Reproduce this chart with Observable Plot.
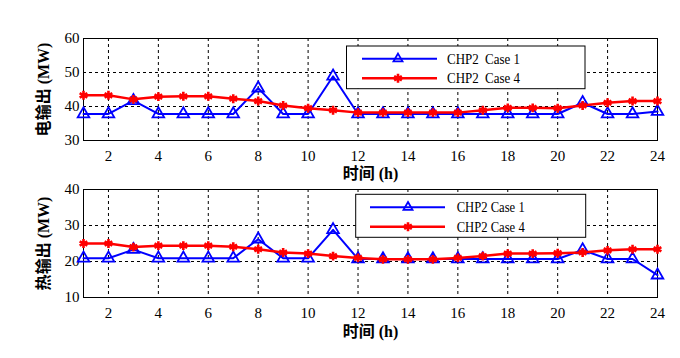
<!DOCTYPE html>
<html>
<head>
<meta charset="utf-8">
<script src="https://cdn.jsdelivr.net/npm/d3@7"></script>
<script src="https://cdn.jsdelivr.net/npm/@observablehq/plot@0.6"></script>
<style>
  html, body { margin: 0; padding: 0; background: white; }
  #wrap { width: 680px; }
  svg { display: block; }
  svg, svg text, svg g { font-family: "Liberation Serif", "Noto Sans CJK SC", serif !important; font-variant: normal !important; }
  g[aria-label="x-axis label"] text, g[aria-label="y-axis label"] text {
    font-weight: bold; font-size: 16px;
  }
</style>
</head>
<body>
<div id="wrap"></div>
<script>
const hours = d3.range(1, 25);
const xTicks = [2, 4, 6, 8, 10, 12, 14, 16, 18, 20, 22, 24];

// Top panel: electric output (MW)
const elecCase1 = [37.8, 37.8, 41.7, 37.8, 37.8, 37.8, 37.8, 45.4, 37.8, 37.8, 48.9, 37.8,
                   37.8, 37.8, 37.8, 37.8, 37.8, 37.8, 37.8, 37.8, 41.1, 37.8, 37.8, 38.5];
const elecCase4 = [43.3, 43.3, 42.1, 42.9, 43.0, 43.0, 42.3, 41.6, 40.3, 39.5, 38.9, 38.2,
                   38.2, 38.2, 38.2, 38.2, 38.9, 39.6, 39.6, 39.5, 40.3, 41.1, 41.6, 41.6];
const elecYTicks = [30, 40, 50, 60];

// Bottom panel: heat output (MW)
const heatCase1 = [20.9, 20.9, 23.3, 20.9, 20.9, 20.9, 20.9, 26.2, 20.9, 20.9, 28.8, 20.7,
                   20.7, 20.7, 20.7, 20.7, 20.7, 20.7, 20.7, 20.7, 23.2, 20.7, 20.7, 16.2];
const heatCase4 = [25.0, 25.0, 24.0, 24.4, 24.4, 24.4, 24.1, 23.4, 22.5, 22.2, 21.5, 21.0,
                   20.6, 20.6, 20.6, 21.0, 21.5, 22.2, 22.2, 22.3, 22.5, 23.1, 23.4, 23.4];
const heatYTicks = [10, 20, 30, 40];

const seriesNames = ["CHP2  Case 1", "CHP2  Case 4"];
const seriesNames2 = ["CHP2 Case 1", "CHP2 Case 4"];
const BLUE = "#0000ff", RED = "#ff0000";
const FONT = "Liberation Serif, Noto Sans CJK SC, serif";

function panel({height, marginTop, marginBottom, yDomain, yTicks, yLabel, c1, c4, xLabelOffset}) {
  const d1 = hours.map((h, i) => ({h, v: c1[i]}));
  const d4 = hours.map((h, i) => ({h, v: c4[i]}));
  return Plot.plot({
    width: 680, height, marginTop, marginBottom, marginLeft: 83, marginRight: 23,
    x: {domain: [1, 24]},
    y: {domain: yDomain},
    style: {fontSize: "15px", fontFamily: FONT, color: "black", background: "white", overflow: "visible"},
    marks: [
      Plot.gridX(xTicks, {stroke: "black", strokeOpacity: 1, strokeDasharray: "3,3"}),
      Plot.gridY(yTicks, {stroke: "black", strokeOpacity: 1, strokeDasharray: "3,3"}),
      Plot.frame({stroke: "black", strokeWidth: 1}),
      Plot.axisX(xTicks, {tickSize: 0, tickPadding: 10, label: "时间 (h)", labelAnchor: "center",
                          labelArrow: "none", labelOffset: xLabelOffset, fontFamily: FONT, fontVariant: "normal"}),
      Plot.axisY(yTicks, {tickSize: 0, tickPadding: 4, label: yLabel, labelAnchor: "center",
                          labelArrow: "none", labelOffset: 46, fontFamily: FONT, fontVariant: "normal"}),
      Plot.line(d1, {x: "h", y: "v", stroke: BLUE, strokeWidth: 2}),
      Plot.dot(d1, {x: "h", y: "v", symbol: "triangle", r: 4.3, stroke: BLUE, strokeWidth: 1.8, fill: "none"}),
      Plot.line(d4, {x: "h", y: "v", stroke: RED, strokeWidth: 2.5}),
      Plot.dot(d4, {x: "h", y: "v", symbol: "asterisk", r: 4.2, stroke: RED, strokeWidth: 2.6}),
    ]
  });
}

function legend(svg, {x, y, w, h, lineX0, lineX1, markX, textX, textW, names}) {
  const g = d3.select(svg).append("g").attr("font-size", 15).attr("text-anchor", "start");
  g.append("rect").attr("x", x).attr("y", y).attr("width", w).attr("height", h)
    .attr("fill", "white").attr("stroke", "black");
  const rows = [y + h * 0.3, y + h * 0.755];
  g.append("line").attr("x1", lineX0).attr("x2", lineX1).attr("y1", rows[0]).attr("y2", rows[0])
    .attr("stroke", BLUE).attr("stroke-width", 2);
  g.append("path").attr("d", d3.symbol(d3.symbolTriangle2, 4.3 * 4.3 * Math.PI)())
    .attr("transform", `translate(${markX},${rows[0]})`).attr("fill", "none").attr("stroke", BLUE).attr("stroke-width", 1.8);
  g.append("text").attr("x", textX).attr("y", rows[0]).attr("dy", "0.35em")
    .attr("textLength", textW).attr("lengthAdjust", "spacingAndGlyphs")
    .style("white-space", "pre").text(names[0]);
  g.append("line").attr("x1", lineX0).attr("x2", lineX1).attr("y1", rows[1]).attr("y2", rows[1])
    .attr("stroke", RED).attr("stroke-width", 2.5);
  g.append("path").attr("d", d3.symbol(d3.symbolAsterisk, 4.2 * 4.2 * Math.PI)())
    .attr("transform", `translate(${markX},${rows[1]})`).attr("fill", "none").attr("stroke", RED).attr("stroke-width", 2.6);
  g.append("text").attr("x", textX).attr("y", rows[1]).attr("dy", "0.35em")
    .attr("textLength", textW).attr("lengthAdjust", "spacingAndGlyphs")
    .style("white-space", "pre").text(names[1]);
}

const wrap = document.getElementById("wrap");
const topChart = panel({height: 180, marginTop: 38, marginBottom: 40, yDomain: [30, 60], yTicks: elecYTicks,
                   yLabel: "电输出 (MW)", c1: elecCase1, c4: elecCase4, xLabelOffset: 38});
const botChart = panel({height: 178, marginTop: 9, marginBottom: 61, yDomain: [10, 40], yTicks: heatYTicks,
                   yLabel: "热输出 (MW)", c1: heatCase1, c4: heatCase4, xLabelOffset: 39});
wrap.appendChild(topChart);
wrap.appendChild(botChart);
legend(topChart, {x: 346.5, y: 46, w: 238.5, h: 42.7, lineX0: 362, lineX1: 437, markX: 398, textX: 447, textW: 73, names: seriesNames});
legend(botChart, {x: 355.7, y: 14.3, w: 230, h: 43, lineX0: 370, lineX1: 445, markX: 408, textX: 456.7, textW: 68, names: seriesNames2});
</script>
</body>
</html>
